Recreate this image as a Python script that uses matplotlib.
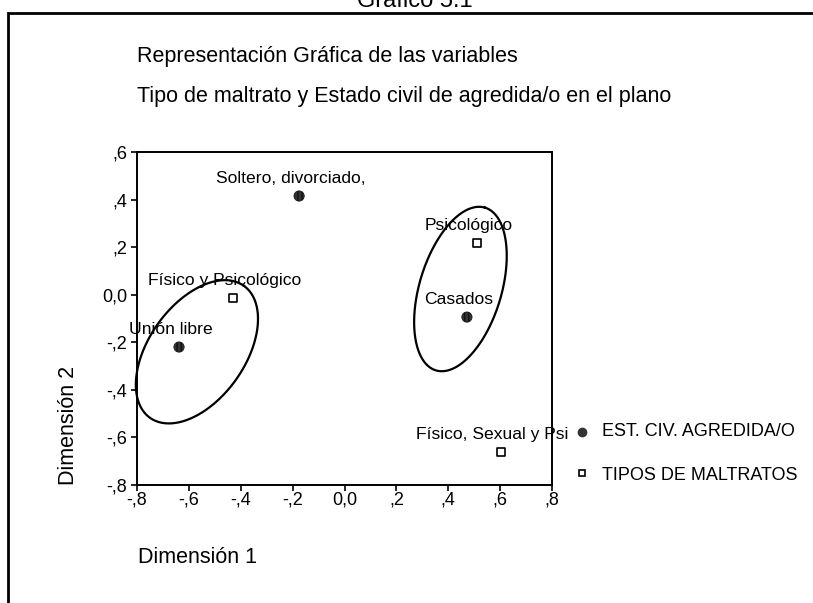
import numpy as np
import matplotlib
matplotlib.use("Agg")
import matplotlib.pyplot as plt
from matplotlib.patches import Rectangle

plt.rcParams['font.family'] = ['Liberation Sans', 'DejaVu Sans']

# estado civil (circulos)
civ_labels = ["Soltero, divorciado,", "Casados", "Unión libre"]
civ_x = [-0.175, 0.472, -0.638]
civ_y = [0.415, -0.094, -0.220]

# tipos de maltrato (cuadrados)
tip_labels = ["Psicológico", "Físico y Psicológico", "Físico, Sexual y Psi"]
tip_x = [0.511, -0.430, 0.603]
tip_y = [0.217, -0.014, -0.661]

# elipses: centro (datos), semiejes (px), angulo (grados)
ell_cx = [-0.569, 0.447]
ell_cy = [-0.240, 0.024]
ell_a = [81, 85]
ell_b = [48, 41]
ell_ang = [54.6, 73.2]

xticks = [-0.8, -0.6, -0.4, -0.2, 0.0, 0.2, 0.4, 0.6, 0.8]
xticklabels = ["-,8", "-,6", "-,4", "-,2", "0,0", ",2", ",4", ",6", ",8"]
yticks = [-0.8, -0.6, -0.4, -0.2, 0.0, 0.2, 0.4, 0.6]
yticklabels = ["-,8", "-,6", "-,4", "-,2", "0,0", ",2", ",4", ",6"]

W, H = 813, 603
fig = plt.figure(figsize=(W / 100, H / 100), dpi=100)
ax = fig.add_axes([137 / W, 1 - 485 / H, 415 / W, 333 / H])
ax.set_xlim(-0.8, 0.8)
ax.set_ylim(-0.8, 0.6)

# pixel -> datos
sx = 1.6 / 415
sy = 1.4 / 333
t = np.linspace(0, 2 * np.pi, 300)
for cx, cy, a, b, ang in zip(ell_cx, ell_cy, ell_a, ell_b, ell_ang):
    th = np.deg2rad(ang)
    ex = cx + (a * np.cos(th) * np.cos(t) - b * np.sin(th) * np.sin(t)) * sx
    ey = cy + (a * np.sin(th) * np.cos(t) + b * np.cos(th) * np.sin(t)) * sy
    ax.plot(ex, ey, color='black', lw=1.6, clip_on=False)

ax.scatter(civ_x, civ_y, s=55, marker='o', facecolor='#333333', edgecolor='#111111',
           hatch='||||', linewidth=0.5, zorder=3)
ax.scatter(tip_x, tip_y, s=32, marker='s', facecolor='white', edgecolor='black',
           linewidth=1.2, zorder=3)

for lab, x, y in zip(civ_labels + tip_labels, civ_x + tip_x, civ_y + tip_y):
    ax.annotate(lab, (x, y), xytext=(-6, 12.5), textcoords='offset points',
                ha='center', va='center', fontsize=12.6, annotation_clip=False)

ax.set_xticks(xticks)
ax.set_xticklabels(xticklabels)
ax.set_yticks(yticks)
ax.set_yticklabels(yticklabels)
ax.tick_params(labelsize=13, length=4, width=1.2)
ax.tick_params(axis='x', pad=1)
ax.tick_params(axis='y', pad=3)
for s in ax.spines.values():
    s.set_linewidth(1.4)

# leyenda
lx = 582 / W
fig.add_artist(plt.Line2D([lx], [1 - 432 / H], marker='o', color='#333333',
                          markersize=6, linestyle='none'))
fig.add_artist(plt.Line2D([lx], [1 - 473 / H], marker='s', markerfacecolor='white',
                          markeredgecolor='black', markeredgewidth=1.2,
                          markersize=5, linestyle='none'))
fig.text(602 / W, 1 - 432 / H, "EST. CIV. AGREDIDA/O", fontsize=13, va='center')
fig.text(602 / W, 1 - 475 / H, "TIPOS DE MALTRATOS", fontsize=13, va='center')

fig.text(137 / W, 1 - 62 / H, "Representación Gráfica de las variables",
         fontsize=15.5, va='baseline')
fig.text(137 / W, 1 - 102 / H, "Tipo de maltrato y Estado civil de agredida/o en el plano",
         fontsize=15.5, va='baseline')
fig.text(138 / W, 1 - 563 / H, "Dimensión 1", fontsize=15.5, va='baseline')
fig.text(68 / W, 1 - 425 / H, "Dimensión 2", fontsize=15.5, va='center',
         ha='center', rotation=90)
fig.text(415 / W, 1 - 7 / H, "Gráfico 5.1", fontsize=17, va='baseline', ha='center')

# marco exterior
fig.add_artist(Rectangle((8 / W, -0.2), 1.2, 1.2 - 13 / H, transform=fig.transFigure,
                         fill=False, lw=2, edgecolor='black'))

fig.savefig("out.png", dpi=100)
